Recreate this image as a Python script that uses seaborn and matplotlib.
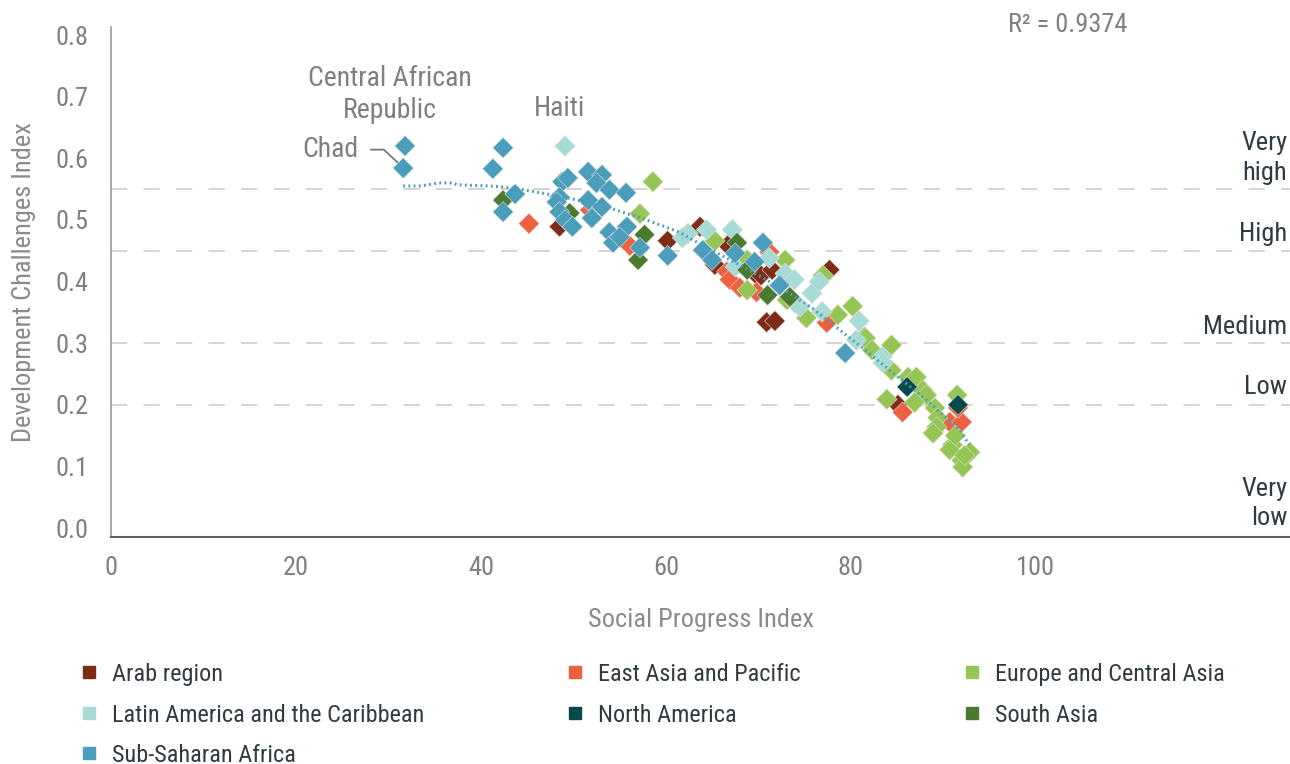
import numpy as np
import pandas as pd
import matplotlib
matplotlib.use("Agg")
import matplotlib.pyplot as plt
from matplotlib.lines import Line2D
from matplotlib import font_manager
import seaborn as sns

# ---------------- data ----------------
regions = ["Arab region", "East Asia and Pacific", "Europe and Central Asia",
           "Latin America and the Caribbean", "North America", "South Asia",
           "Sub-Saharan Africa"]
colors = ["#7f2c17", "#ee6140", "#95c653", "#a6dbd6", "#064a4a", "#4a7a2e", "#4a9dbb"]

arab_x = [48.5, 60.2, 63.7, 65.3, 66.7, 69.8, 70.3, 71.5, 77.7, 70.9, 71.8, 85.1]
arab_y = [0.489, 0.466, 0.489, 0.427, 0.459, 0.411, 0.410, 0.419, 0.419, 0.334, 0.336, 0.200]

eap_x = [45.2, 51.8, 56.1, 66.6, 66.9, 68.0, 71.2, 69.8, 77.4, 85.6, 90.7, 92.0, 91.6]
eap_y = [0.494, 0.516, 0.458, 0.416, 0.403, 0.390, 0.448, 0.383, 0.333, 0.188, 0.172, 0.172, 0.195]

eca_x = [58.6, 57.2, 65.3, 68.8, 68.8, 72.9, 73.1, 75.2, 77.0, 78.6, 80.2, 81.5, 81.6,
         84.4, 82.3, 84.4, 86.2, 87.1, 87.8, 88.2, 83.9, 86.9, 89.1, 91.5, 89.4, 89.3,
         88.9, 91.0, 92.9, 92.0, 90.7, 92.1, 92.3, 91.3]
eca_y = [0.562, 0.510, 0.466, 0.435, 0.386, 0.435, 0.370, 0.341, 0.410, 0.346, 0.360, 0.310, 0.308,
         0.297, 0.289, 0.256, 0.245, 0.245, 0.224, 0.216, 0.209, 0.204, 0.195, 0.216, 0.179, 0.164,
         0.154, 0.135, 0.123, 0.110, 0.127, 0.099, 0.118, 0.150]

lac_x = [49.1, 62.4, 61.8, 64.4, 67.2, 67.5, 71.2, 72.9, 73.9, 75.8, 76.6, 74.5, 74.0,
         76.9, 80.9, 80.6, 83.4, 83.5]
lac_y = [0.620, 0.478, 0.471, 0.484, 0.484, 0.424, 0.438, 0.413, 0.403, 0.381, 0.400, 0.359, 0.365,
         0.351, 0.336, 0.305, 0.278, 0.268]

nam_x = [86.1, 91.6]
nam_y = [0.229, 0.200]

sas_x = [42.4, 49.6, 57.7, 57.0, 67.7, 68.8, 71.0, 73.4]
sas_y = [0.532, 0.511, 0.476, 0.435, 0.463, 0.419, 0.378, 0.375]

ssa_x = [31.8, 31.6, 42.4, 41.3, 43.7, 42.4, 48.8, 49.4, 48.5, 48.2, 48.5, 49.1, 49.9,
         51.6, 53.1, 52.5, 53.9, 55.7, 51.6, 53.1, 52.0, 53.9, 54.3, 55.8, 55.0, 57.2,
         60.2, 64.0, 65.0, 67.5, 69.6, 70.5, 72.3, 79.4]
ssa_y = [0.620, 0.584, 0.617, 0.583, 0.542, 0.513, 0.562, 0.568, 0.537, 0.529, 0.513, 0.500, 0.489,
         0.578, 0.573, 0.560, 0.549, 0.544, 0.532, 0.521, 0.503, 0.480, 0.463, 0.489, 0.472, 0.455,
         0.442, 0.451, 0.435, 0.446, 0.432, 0.463, 0.394, 0.284]

trend_x = [31.6, 33.5, 35.4, 36.9, 37.4, 41.0, 43.5, 46.4, 49.3, 53.6, 57.9, 61.3, 64.8,
           67.0, 70.0, 73.0, 76.0, 78.1, 81.3, 85.1, 87.8, 91.8, 92.8]
trend_y = [0.555, 0.555, 0.560, 0.560, 0.557, 0.555, 0.552, 0.544, 0.536, 0.521, 0.500, 0.481, 0.452,
           0.435, 0.410, 0.385, 0.355, 0.330, 0.292, 0.245, 0.213, 0.159, 0.135]

thresholds = [0.55, 0.45, 0.30, 0.20]
level_labels = ["Very\nhigh", "High", "Medium", "Low", "Very\nlow"]
level_pos = [0.600, 0.477, 0.326, 0.229, 0.040]
x_ticks = [0, 20, 40, 60, 80, 100]
y_ticks = [0.0, 0.1, 0.2, 0.3, 0.4, 0.5, 0.6, 0.7, 0.8]
r2_text = "R² = 0.9374"

series = [(arab_x, arab_y), (eap_x, eap_y), (eca_x, eca_y), (lac_x, lac_y),
          (nam_x, nam_y), (sas_x, sas_y), (ssa_x, ssa_y)]
frames = []
for reg, (xs, ys) in zip(regions, series):
    frames.append(pd.DataFrame({"spi": xs, "dci": ys, "region": reg}))
df = pd.concat(frames, ignore_index=True)

# ---------------- style ----------------
sns.set_style("white")
names = {f.name for f in font_manager.fontManager.ttflist}
fam = None
for cand in ["Liberation Sans Narrow", "Roboto Condensed", "Open Sans Condensed", "Roboto", "Liberation Sans"]:
    if cand in names:
        fam = cand
        break
plt.rcParams["font.family"] = [fam, "DejaVu Sans"] if fam else ["DejaVu Sans"]

W, H = 1290, 764
fig = plt.figure(figsize=(W / 100, H / 100), dpi=100)
ax = fig.add_axes([111 / W, 1 - 537 / H, 1 - 111 / W, (537 - 27) / H])

grey = "#7f7f7f"
dark = "#2f3a42"

for t in thresholds:
    ax.axhline(t, color="#d0d0d0", lw=1.3, dashes=(9, 9), zorder=0)

sns.scatterplot(data=df, x="spi", y="dci", hue="region", hue_order=regions,
                palette=dict(zip(regions, colors)), marker="D", s=110,
                edgecolor="#dddddd", linewidth=0.4, alpha=1, legend=False, ax=ax, zorder=3)

sns.lineplot(x=trend_x, y=trend_y, color="#4a9dbb", lw=2.2, ax=ax, zorder=4,
             linestyle=(0, (0.6, 1.1)), sort=False)

ax.set_xlim(0, 127.5)
ax.set_ylim(-0.0145, 0.813)
ax.set_xticks(x_ticks)
ax.set_yticks(y_ticks)
ax.set_xticklabels([str(v) for v in x_ticks])
ax.set_yticklabels([f"{v:.1f}" for v in y_ticks])
ax.tick_params(axis="both", length=0, labelsize=19, colors=grey)
ax.tick_params(axis="x", pad=14)
ax.tick_params(axis="y", pad=16)

for s in ["top", "right"]:
    ax.spines[s].set_visible(False)
ax.spines["left"].set_color("#9a9a9a")
ax.spines["left"].set_linewidth(1.2)
ax.spines["bottom"].set_color("#5a6268")
ax.spines["bottom"].set_linewidth(1.5)

ax.set_xlabel("Social Progress Index", fontsize=19, color="#8a8a8a", labelpad=20)
ax.set_ylabel("Development Challenges Index", fontsize=19, color="#8a8a8a", labelpad=14)

for lab, yp in zip(level_labels, level_pos):
    ax.text(127.2, yp, lab, ha="right", va="center", fontsize=19, color=dark,
            linespacing=1.3, multialignment="right")

ax.text(103.5, 0.817, r2_text, ha="center", va="center", fontsize=19, color=grey, clip_on=False)

ax.text(30.2, 0.703, "Central African\nRepublic", ha="center", va="center", fontsize=20,
        color=grey, linespacing=1.25, multialignment="center")
ax.text(48.5, 0.681, "Haiti", ha="center", va="center", fontsize=20, color=grey)
ax.text(26.7, 0.615, "Chad", ha="right", va="center", fontsize=20, color=grey)
ax.plot([28.1, 29.5, 31.3], [0.614, 0.614, 0.589], color="#777777", lw=1.3, zorder=2)

# ---------------- legend ----------------
def handle(i):
    return Line2D([], [], marker="s", linestyle="none", markersize=9,
                  markerfacecolor=colors[i], markeredgecolor=colors[i])

groups = [([0, 3, 6], 79), ([1, 4], 565), ([2, 5], 962)]
for idxs, xpx in groups:
    leg = fig.legend([handle(i) for i in idxs], [regions[i] for i in idxs],
                     loc="upper left", bbox_to_anchor=(xpx / W, 1 - 663 / H),
                     frameon=False, fontsize=17.5, labelcolor=dark, borderpad=0,
                     borderaxespad=0, handlelength=0.8, handletextpad=0.55,
                     labelspacing=0.72)

fig.savefig("out.png", dpi=100)
